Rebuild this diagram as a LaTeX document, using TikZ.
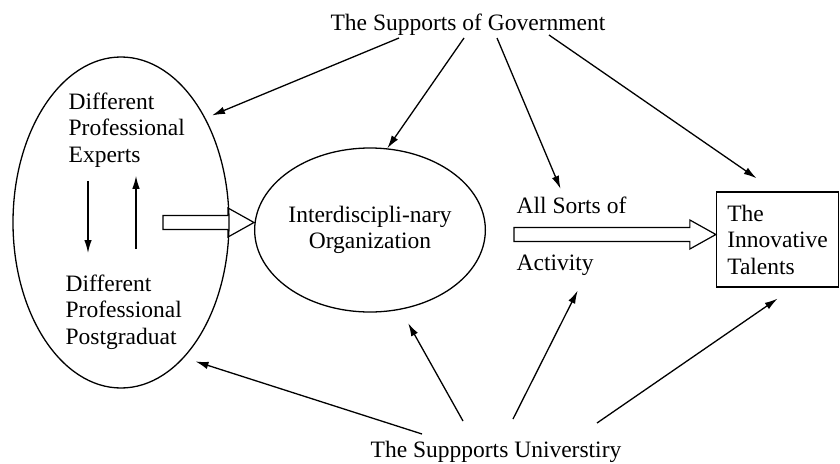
\documentclass[tikz,border=0pt]{standalone}
\usepackage{fontspec}
\setmainfont{Liberation Serif}
\usetikzlibrary{shapes.geometric,arrows.meta,calc}

\begin{document}
\begin{tikzpicture}[
		x=1pt, y=-1pt,
		line width=1.3pt,
		font=\fontsize{23.5}{26.5}\selectfont,
		plain/.style={
			draw=none,
			inner sep=0pt,
			align=left
		},
		oval/.style={
			draw,
			ellipse,
			inner sep=0pt,
			align=center
		},
		hollow/.style={
			draw,
			line width=1.2pt,
			line join=miter
		},
		>={Latex[length=13pt,width=7.5pt]}
		]
		\useasboundingbox (0,0) rectangle (840,463);
		% the three blocks
		\node[oval, minimum width=216pt, minimum height=331pt] (staff) at (121,222.5) {};
		\node[oval, minimum width=201pt, minimum height=164pt] (org) at (370,230) {Interdiscipli-nary\\Organization};
		\node[draw, rectangle, minimum width=122pt, minimum height=95pt, inner sep=0pt, align=left] (talent) at (777.5,239.5) {The\\Innovative\\Talents};
		% texts
		\node[plain, anchor=north west] (experts) at (68,92) {Different\\Professional\\Experts};
		\node[plain, anchor=north west] (post) at (65,274) {Different\\Professional\\Postgraduat};
		\node[plain, anchor=base west] (sorts) at (516,213) {All Sorts of};
		\node[plain, anchor=base west] (act) at (516,270) {Activity};
		\node[plain, anchor=base] (gov) at (468,30) {The Supports of Government};
		\node[plain, anchor=base] (uni) at (496,457) {The Suppports Universtiry};
		% where the supports start
		\coordinate (g1) at (399,38);
		\coordinate (g2) at (464,38);
		\coordinate (g3) at (497,38);
		\coordinate (g4) at (549,35);
		\coordinate (u1) at (422,434);
		\coordinate (u2) at (463,421);
		\coordinate (u3) at (513,419);
		\coordinate (u4) at (597,423);
		\foreach \src/\tgt/\dx/\gap in {g1/staff.51/0/7, g2/org.78/0/0, g3/sorts.north/-8/7.6, g4/talent.north/-2/23,
			u1/staff.-65/0/12, u2/org.-69/0/15.5, u3/act.south/30/16.7, u4/talent.south/16/19.3}
			\draw[->, shorten >=\gap pt] (\src) -- ([xshift=\dx pt]\tgt);
		% inside the left oval
		\draw[->, shorten <=13pt, shorten >=21pt] ([xshift=20pt]experts.south west) -- ([xshift=23pt]post.north west);
		\draw[->, shorten <=25pt, shorten >=8pt] ([xshift=71pt]post.north west) -- ([xshift=68pt]experts.south west);
		% hollow arrows
		\coordinate (ltail) at ([xshift=42pt]staff.center);
		\coordinate (ltip) at ([yshift=7.5pt]org.west);
		\coordinate (rtail) at ([xshift=28pt,yshift=-4.5pt]org.east);
		\coordinate (rtip) at ([yshift=5pt]talent.west);
		\foreach \tl/\tp in {ltail/ltip, rtail/rtip}
			\draw[hollow] ($(\tl)+(0,-7)$) -- ($(\tp)+(-26,-7)$) -- ($(\tp)+(-26,-14.5)$) -- (\tp)
				-- ($(\tp)+(-26,14.5)$) -- ($(\tp)+(-26,7)$) -- ($(\tl)+(0,7)$) -- cycle;
\end{tikzpicture}
\end{document}
